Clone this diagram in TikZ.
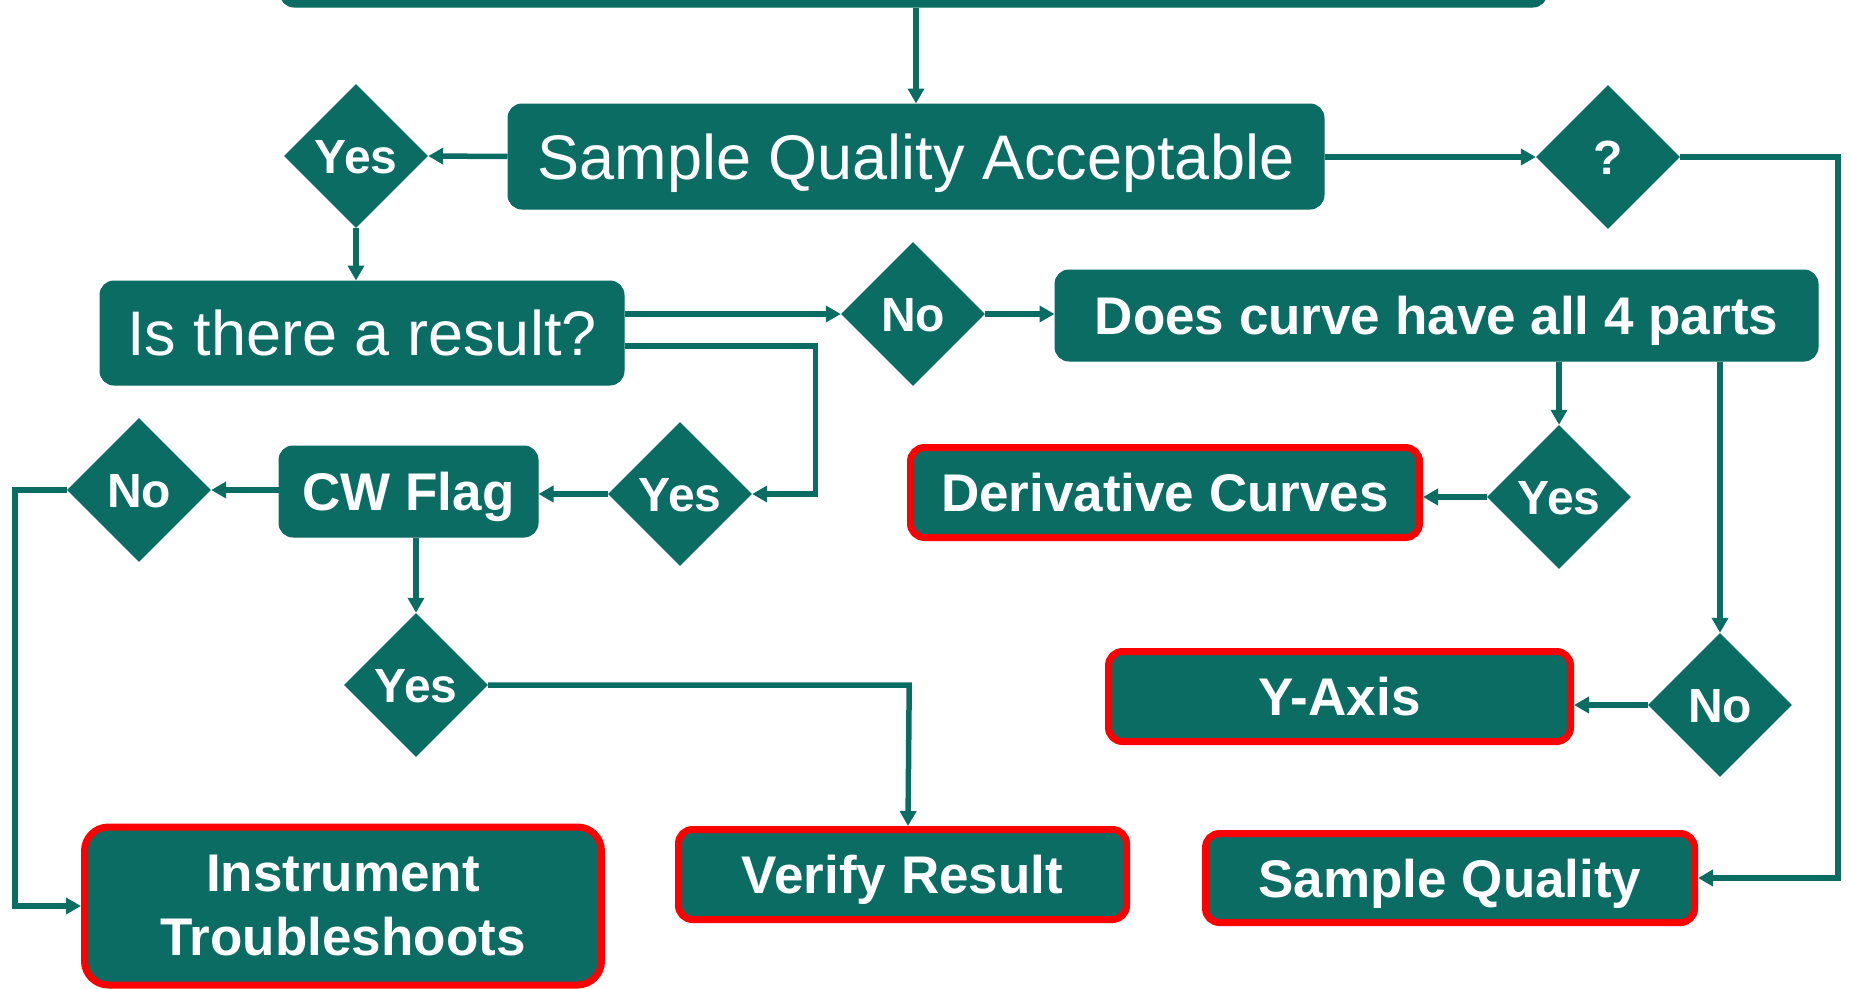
\documentclass[tikz,border=0pt]{standalone}
\usepackage{fontspec}
\setmainfont{Liberation Sans}
\usetikzlibrary{shapes.geometric,arrows.meta}
\definecolor{teal}{RGB}{11,108,100}
\definecolor{redb}{RGB}{255,0,0}
\tikzset{
  box/.style={draw=teal,fill=teal,rounded corners=14pt,inner sep=0pt,text=white,align=center,line width=1pt},
  regtext/.style={font=\fontsize{63}{75}\selectfont,text height=45pt,text depth=0pt},
  bfont/.style={font=\fontsize{53}{64}\selectfont\bfseries},
  boldtext/.style={bfont,text height=38pt,text depth=0pt},
  redbox/.style={box,draw=redb,line width=7pt},
  dec/.style={diamond,aspect=1,fill=teal,text=white,inner sep=0pt,minimum width=144pt,minimum height=144pt,font=\fontsize{48}{52}\selectfont\bfseries,text height=34pt,text depth=0pt},
  arr/.style={draw=teal,line width=5.5pt,-{Triangle[length=15pt,width=16pt]}},
}
\begin{document}
\begin{tikzpicture}[x=1pt,y=-1pt]
\useasboundingbox (0,0) rectangle (1851,988);
% boxes
\node[box,minimum width=1267pt,minimum height=64pt] (top) at (913.5,-25) {};
\node[box,regtext,minimum width=816pt,minimum height=105pt] (sqa) at (916,156.5) {Sample Quality Acceptable};
\node[box,regtext,minimum width=524pt,minimum height=104pt] (res) at (362,333) {Is there a result?};
\node[box,boldtext,minimum width=763pt,minimum height=91pt] (curve) at (1436.5,315.5) {Does curve have all 4 parts};
\node[redbox,boldtext,minimum width=509pt,minimum height=90pt] (deriv) at (1165,492.5) {Derivative Curves};
\node[redbox,boldtext,minimum width=462pt,minimum height=90pt] (yaxis) at (1339.5,696.5) {Y-Axis};
\node[redbox,boldtext,minimum width=489pt,minimum height=89pt] (sq) at (1450,878) {Sample Quality};
\node[box,boldtext,minimum width=259pt,minimum height=91pt] (cw) at (408.5,491.5) {CW Flag};
\node[redbox,boldtext,minimum width=448pt,minimum height=90pt] (verify) at (902.5,874.5) {Verify Result};
\node[redbox,bfont,rounded corners=24pt,minimum width=517pt,minimum height=158pt] (instr) at (343,906) {Instrument\\Troubleshoots};
% decisions
\node[dec] (d1) at (356,156) {Yes};
\node[dec] (dq) at (1608,157) {?};
\node[dec] (d2) at (913,314) {No};
\node[dec] (d3) at (1559,497) {Yes};
\node[dec] (d4) at (1720,705) {No};
\node[dec] (d5) at (680,494) {Yes};
\node[dec] (d6) at (139,490) {No};
\node[dec] (d7) at (416,685) {Yes};
% connectors
\draw[arr] (sqa.north |- top.south) -- (sqa.north);
\draw[arr] (sqa.west) -- (d1.east);
\draw[arr] (sqa.east |- dq.west) -- (dq.west);
\draw[arr] (dq.east) -- ++(158,0) |- (sq.east);
\draw[arr] (d1.south) -- (d1.south |- res.north);
\draw[arr] (d2.west -| res.east) -- (d2.west);
\draw[arr] ([yshift=-13pt]res.east) -- ++(191,0) |- (d5.east);
\draw[arr] (d2.east) -- (d2.east -| curve.west);
\draw[arr] (d3.north |- curve.south) -- (d3.north);
\draw[arr] (d4.north |- curve.south) -- (d4.north);
\draw[arr] (d3.west) -- (d3.west -| deriv.east);
\draw[arr] (d4.west) -- (d4.west -| yaxis.east);
\draw[arr] (d5.west) -- (d5.west -| cw.east);
\draw[arr] (d6.east -| cw.west) -- (d6.east);
\draw[arr] (d6.west) -- ++(-52,0) |- (instr.west);
\draw[arr] (d7.north |- cw.south) -- (d7.north);
\draw[arr] (d7.east) -- ++(421,0) -- ([xshift=5.5pt]verify.north);
\end{tikzpicture}
\end{document}
